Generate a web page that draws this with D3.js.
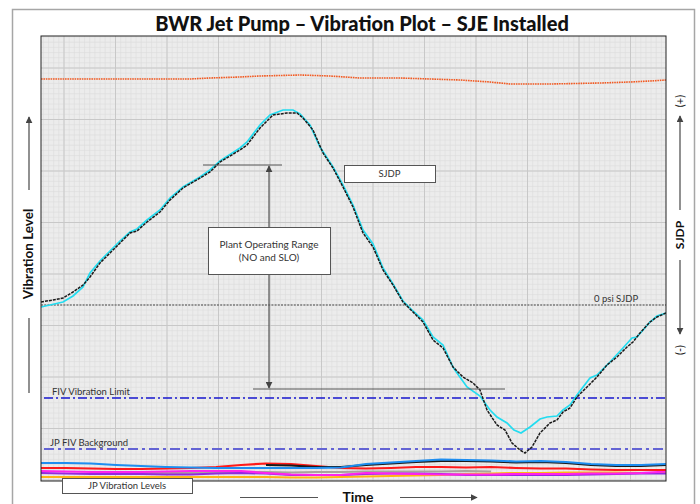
<!DOCTYPE html>
<html><head><meta charset="utf-8">
<script src="https://cdn.jsdelivr.net/npm/d3@7"></script>
<style>body{margin:0;background:#fff}svg{display:block}</style>
</head><body><svg id="c" width="700" height="504"></svg>
<script>
// ---- data (time units / vibration-level units) ----
const sjdpBlackTime = [0,12,22,32,42,49,59,69,79,89,96,106,119,129,142,159,169,179,199,206,219,232,246,256,262,272,282,292,302,312,322,332,342,352,362,372,382,392,402,412,422,432,439,446,456,464,471,479,484,491,499,509,516,522,529,536,546,556,566,576,586,592,599,609,616,625];
const sjdpBlack = [179,181,183,189,196,204,218,228,238,248,250,259,269,281,293,303,309,319,331,336,353,366,368,368,363,351,328,313,294,274,248,234,211,196,179,169,159,141,133,114,104,98,91,71,56,51,38,31,28,34,48,58,61,69,73,84,94,104,116,124,134,139,148,159,164,168];
const sjdpCyanTime = [0,22,32,42,49,59,69,79,89,96,106,119,129,142,159,169,179,199,206,219,229,242,252,259,269,279,292,302,312,322,332,342,352,362,372,382,392,402,412,416,426,439,449,456,466,473,480,489,499,506,516,522,529,536,549,556,569,582,591,596,609,616,625];
const sjdpCyan = [174,179,185,194,208,220,230,240,249,252,261,271,283,294,304,311,320,333,339,356,366,371,371,367,356,334,314,296,276,251,237,213,197,180,170,161,144,136,114,108,94,85,71,64,58,51,48,54,62,64,65,71,76,86,103,106,119,133,143,144,159,165,168];
const topTime = [0,59,109,149,169,199,219,239,259,289,319,359,389,419,449,469,509,559,589,609,625];
const topOrange = [402,402,402,402,403,404,405,405.5,406,405,403,403,402,401,399,397,397,398,399,400,401];

const jpTime = [0,25,50,75,100,125,150,175,200,225,250,275,300,325,350,375,400,425,450,475,500,525,550,575,600,625];
const jpBlue = [18,18,17.5,16,15,14,13.5,13,13,13,13,13,13.5,17,18.5,20,21.5,21,20.5,19.5,20,19,17,16,16,17];
const jpRed = [13,13,12.5,12,12,12.5,13,14,16,17.5,17,15,13,12.5,13,14,14,13.5,14,13,12.5,12.5,11.5,11,11,11];
const jpMagenta = [10,9.5,9,9,9,9.5,10,10,10,8,6.5,6,6,8,7.5,7,6.5,6.5,6.5,7,7,7,7.5,7.5,8,9.5];
const jpPurple = [8,7.5,7,7,7,6.5,6.5,7.5,8,7.5,6,6,6,7,7.5,7.5,7,6,6,6,6,6,6.5,7,7.5,7.5];
const jpOrange = [4,4,4,4,4,4,4,4,4,4,3.5,3.5,4,4.5,5,5.5,6,7,7.5,8,8,8.5,8.5,8.5,8,8];
const jpBlackTime = [225,250,275,300,325,350,375,400,425,450,475,500,525,550,575,600,625];
const jpBlack = [16,15.5,14,14,16,17.5,19,20,20,19.5,18.5,19,18,16,15,15,16];
const jpGreyTime = [50,75,100,125,150,175,200,225,250,275,300,325,350,375,400,425,450];
const jpGrey = [8.5,8.5,8,8,8,8.5,9,9,8.5,9,9,9.5,9.5,9.5,9.5,10,9.5];

const refLevels = {zeroSJDP:176, fivLimit:83, fivBackground:32};
const rangeTop = 316, rangeBottom = 92; // plant operating range (vibration units)

// ---- layout ----
const svg = d3.select("#c");
const L=41, R=666, T=36, B=481;
const x = d3.scaleLinear().domain([0,625]).range([L,R]);
const y = d3.scaleLinear().domain([0,445]).range([B,T]);
const FONT = "Lato, 'Open Sans', sans-serif";

const defs = svg.append("defs");
defs.append("marker").attr("id","ah").attr("viewBox","0 0 10 10").attr("refX",9).attr("refY",5)
  .attr("markerWidth",7).attr("markerHeight",7).attr("markerUnits","userSpaceOnUse").attr("orient","auto")
  .append("path").attr("d","M0,0L10,5L0,10z").attr("fill","#444");
defs.append("clipPath").attr("id","pc").append("rect").attr("x",L).attr("y",T).attr("width",R-L).attr("height",B-T);

// outer frame
svg.append("rect").attr("x",12.5).attr("y",9.5).attr("width",682).attr("height",520)
  .attr("fill","#fff").attr("stroke","#a6a6a6").attr("stroke-width",1.5);

// title
svg.append("text").attr("x",362).attr("y",31).attr("text-anchor","middle")
  .attr("font-family",FONT).attr("font-weight","900").attr("font-size",20).attr("fill","#111")
  .text("BWR Jet Pump – Vibration Plot – SJE Installed");

// plot background + grid
const g = svg.append("g");
g.append("rect").attr("x",L).attr("y",T).attr("width",R-L).attr("height",B-T).attr("fill","#ececec");
const grid = g.append("g").attr("clip-path","url(#pc)");
const step = 51.5, minor = step/10;
const xMinor = d3.range(23-step, 625, minor), yMinor = d3.range(104-2*step, 445, minor);
grid.selectAll(".vm").data(xMinor).join("line").attr("x1",d=>x(d)).attr("x2",d=>x(d)).attr("y1",T).attr("y2",B)
  .attr("stroke","#dcdcdc").attr("stroke-width",0.6);
grid.selectAll(".hm").data(yMinor).join("line").attr("y1",d=>y(d)).attr("y2",d=>y(d)).attr("x1",L).attr("x2",R)
  .attr("stroke","#dcdcdc").attr("stroke-width",0.6);
const xMaj = d3.range(23, 625, step), yMaj = d3.range(104-2*step, 445, step);
grid.selectAll(".vM").data(xMaj).join("line").attr("x1",d=>x(d)).attr("x2",d=>x(d)).attr("y1",T).attr("y2",B)
  .attr("stroke","#c8c8c8").attr("stroke-width",1);
grid.selectAll(".hM").data(yMaj).join("line").attr("y1",d=>y(d)).attr("y2",d=>y(d)).attr("x1",L).attr("x2",R)
  .attr("stroke","#c8c8c8").attr("stroke-width",1);

const plot = svg.append("g").attr("clip-path","url(#pc)");
const lineFn = (ts) => d3.line().x((d,i)=>x(ts[i])).y(d=>y(d));

// reference lines
plot.append("line").attr("x1",x(0)).attr("x2",x(625)).attr("y1",y(refLevels.zeroSJDP)).attr("y2",y(refLevels.zeroSJDP))
  .attr("stroke","#7a7a7a").attr("stroke-width",1.3).attr("stroke-dasharray","2,1.2");
plot.append("line").attr("x1",x(3)).attr("x2",x(625)).attr("y1",y(refLevels.fivLimit)).attr("y2",y(refLevels.fivLimit))
  .attr("stroke","#1818d0").attr("stroke-width",1.3).attr("stroke-dasharray","9,3,2,3");
plot.append("line").attr("x1",x(3)).attr("x2",x(625)).attr("y1",y(refLevels.fivBackground)).attr("y2",y(refLevels.fivBackground))
  .attr("stroke","#6464d4").attr("stroke-width",2).attr("stroke-dasharray","10,4,3,4");

// top orange trace
plot.append("path").attr("d",lineFn(topTime)(topOrange)).attr("fill","none")
  .attr("stroke","#f25a22").attr("stroke-width",1.6).attr("stroke-dasharray","1.6,0.8");

// JP vibration level traces
const jp = [
  [jpTime, jpOrange, "#ffb416"],
  [jpGreyTime, jpGrey, "#a9a39a"],
  [jpTime, jpPurple, "#9428e0"],
  [jpTime, jpMagenta, "#ff22ee"],
  [jpTime, jpRed, "#ff1a1a"],
  [jpBlackTime, jpBlack, "#1a1a1a"],
  [jpTime, jpBlue, "#1e8ef0"]
];
jp.forEach(([ts, vs, c]) => {
  plot.append("path").attr("d", lineFn(ts)(vs)).attr("fill","none").attr("stroke",c).attr("stroke-width",2.2);
});

// SJDP traces
plot.append("path").attr("d",lineFn(sjdpCyanTime)(sjdpCyan)).attr("fill","none")
  .attr("stroke","#22dcf0").attr("stroke-width",1.7);
plot.append("path").attr("d",lineFn(sjdpBlackTime)(sjdpBlack)).attr("fill","none")
  .attr("stroke","#1a1a1a").attr("stroke-width",1.5).attr("stroke-dasharray","3,1");

// plot border
svg.append("rect").attr("x",L).attr("y",T).attr("width",R-L).attr("height",B-T)
  .attr("fill","none").attr("stroke","#222").attr("stroke-width",1);

// reference labels
const lab = (tx,vy,s,anchor) => svg.append("text").attr("x",x(tx)).attr("y",y(vy)-3).attr("text-anchor",anchor||"start")
  .attr("font-family",FONT).attr("font-size",9.5).attr("fill","#333").text(s);
lab(553, refLevels.zeroSJDP, "0 psi SJDP");
lab(11, refLevels.fivLimit, "FIV Vibration Limit");
lab(9, refLevels.fivBackground, "JP FIV Background");

// plant operating range annotation
const ax = x(228);
svg.append("line").attr("x1",x(162)).attr("x2",x(241)).attr("y1",y(rangeTop)).attr("y2",y(rangeTop)).attr("stroke","#555").attr("stroke-width",1.2);
svg.append("line").attr("x1",x(212)).attr("x2",x(464)).attr("y1",y(rangeBottom)).attr("y2",y(rangeBottom)).attr("stroke","#555").attr("stroke-width",1.2);
svg.append("line").attr("x1",ax).attr("x2",ax).attr("y1",227).attr("y2",y(rangeTop)+1).attr("stroke","#555").attr("stroke-width",1.2).attr("marker-end","url(#ah)");
svg.append("line").attr("x1",ax).attr("x2",ax).attr("y1",274).attr("y2",y(rangeBottom)-1).attr("stroke","#555").attr("stroke-width",1.2).attr("marker-end","url(#ah)");
const box = (bx,by,bw,bh,lines,fs) => {
  svg.append("rect").attr("x",bx+0.5).attr("y",by+0.5).attr("width",bw).attr("height",bh).attr("fill","#fff").attr("stroke","#555").attr("stroke-width",1);
  const n = lines.length;
  lines.forEach((s,i)=>svg.append("text").attr("x",bx+bw/2).attr("y",by+bh/2+(i-(n-1)/2)*13+3.5)
    .attr("text-anchor","middle").attr("font-family",FONT).attr("font-size",fs).attr("fill","#333").text(s));
};
box(208,227,122,47,["Plant Operating Range","(NO and SLO)"],10);
box(344,165,91,17,["SJDP"],9.5);
box(62,478,130,15,["JP Vibration Levels"],9.5);

// left axis label
svg.append("text").attr("transform","translate(33,254) rotate(-90)").attr("text-anchor","middle")
  .attr("font-family",FONT).attr("font-weight","bold").attr("font-size",13.5).attr("fill","#111").text("Vibration Level");
svg.append("line").attr("x1",29).attr("x2",29).attr("y1",190).attr("y2",117).attr("stroke","#555").attr("stroke-width",1.3).attr("marker-end","url(#ah)");
svg.append("line").attr("x1",29).attr("x2",29).attr("y1",318).attr("y2",393).attr("stroke","#555").attr("stroke-width",1.3);

// right axis label
svg.append("text").attr("transform","translate(684,235) rotate(-90)").attr("text-anchor","middle")
  .attr("font-family",FONT).attr("font-weight","bold").attr("font-size",12).attr("fill","#111").text("SJDP");
svg.append("text").attr("transform","translate(684,101) rotate(-90)").attr("text-anchor","middle")
  .attr("font-family",FONT).attr("font-size",11).attr("fill","#111").text("(+)");
svg.append("text").attr("transform","translate(684,350) rotate(-90)").attr("text-anchor","middle")
  .attr("font-family",FONT).attr("font-size",11).attr("fill","#111").text("(-)");
svg.append("line").attr("x1",680).attr("x2",680).attr("y1",210).attr("y2",116).attr("stroke","#555").attr("stroke-width",1.3).attr("marker-end","url(#ah)");
svg.append("line").attr("x1",680).attr("x2",680).attr("y1",260).attr("y2",334).attr("stroke","#555").attr("stroke-width",1.3).attr("marker-end","url(#ah)");

// time label
svg.append("text").attr("x",358).attr("y",502).attr("text-anchor","middle")
  .attr("font-family",FONT).attr("font-weight","bold").attr("font-size",14).attr("fill","#111").text("Time");
svg.append("line").attr("x1",240).attr("x2",318).attr("y1",497.5).attr("y2",497.5).attr("stroke","#555").attr("stroke-width",1.2);
svg.append("line").attr("x1",400).attr("x2",477).attr("y1",497.5).attr("y2",497.5).attr("stroke","#555").attr("stroke-width",1.2).attr("marker-end","url(#ah)");
</script>
</body></html>
